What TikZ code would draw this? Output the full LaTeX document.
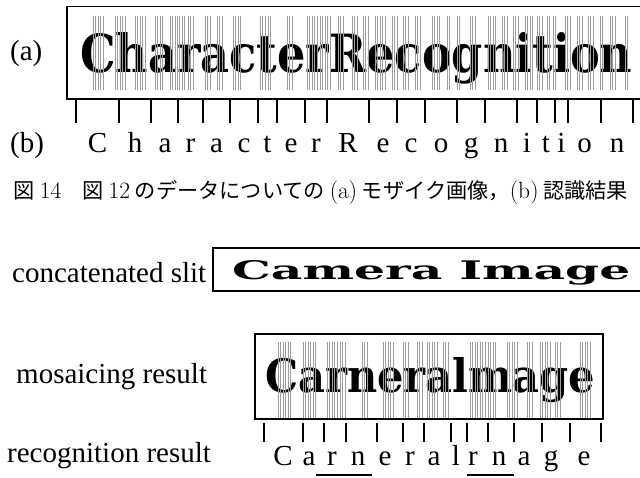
\documentclass[tikz,border=0pt]{standalone}
\usepackage{fontspec}
\usepackage{graphicx}
\newfontfamily\tms{Liberation Serif}
\newfontfamily\slab{DejaVu Serif}
\newfontfamily\cjk{Noto Sans CJK JP}
\newcommand\capnum[1]{{\rmfamily\fontsize{23.5}{25}\selectfont #1}}
\tikzset{
  boxline/.style={line width=1.4pt},
  tickline/.style={line width=1.9pt},
  slitline/.style={line width=0.9pt, black!38},
  lab/.style={inner sep=0pt, font=\tms\fontsize{29}{32}\selectfont},
  ltr/.style={inner sep=0pt, anchor=base, font=\tms\fontsize{29}{32}\selectfont},
  mos/.style={inner sep=0pt, anchor=base west},
  uline/.style={line width=1.8pt}
}
\newcommand\slits[3]{% clusters, ytop, ybottom
  \foreach \a/\b in {#1}{%
    \pgfmathtruncatemacro\nn{(\b-\a)/2.5}%
    \foreach \k in {0,...,\nn}{%
      \draw[slitline] ({\a+2.5*\k},#2) -- ({\a+2.5*\k},#3);
    }%
  }%
}
\begin{document}
\begin{tikzpicture}[x=1pt,y=-1pt]
\useasboundingbox (0,0) rectangle (640,477);
% ---------- top panel ----------
\node[lab, anchor=base west] (la) at (10,60) {(a)};
\node[lab, anchor=base west] (lb) at (10,152) {(b)};
\draw[boxline] (67,6.5) rectangle (650,99);
\node[mos] (txtA) at (80,72) {\resizebox{552pt}{40pt}{\slab\bfseries CharacterRecognition}};
\slits{93/103,115/127,135/147,155/163,170/175,177/185,188/195,205/210,217/223,233/242,260/265,268/272,287/293,307/317,320/330,338/345,352/357,363/370,375/387,392/397,403/410,415/420,432/440,447/450,457/460,470/477,488/497,502/507,513/518,525/533,537/542,547/550,553/557,565/570,577/582,588/595,600/603,610/615,625/628}{16}{90}
\foreach \x in {76,119,151,178,203,230,258,277,305,327,369,397,425,457,485,517,537,555,568,601,633}{
  \draw[tickline] (\x,100) -- (\x,123);
}
\foreach \c/\x in {C/97.5,h/135,a/165,r/190.5,a/216.5,c/244,t/267.5,e/291,r/316,R/348,e/383,c/411,o/441,g/471,n/501,i/527,t/546,i/561.5,o/584.5,n/617}{
  \node[ltr] at (\x,152) {\c};
}
% ---------- caption ----------
\node[inner sep=0pt, font=\fontsize{21.2}{25}\selectfont] (cap) at (321,192)
  {\cjk 図 \capnum{14}\quad 図 \capnum{12} のデータについての \capnum{(a)} モザイク画像，\capnum{(b)} 認識結果};
% ---------- concatenated slit ----------
\node[lab, anchor=base west] (lc) at (12,282) {concatenated slit};
\draw[boxline] (213,248) rectangle (650,291);
\node[mos] (txtC) at (232,279) {\resizebox{398pt}{19pt}{\slab\bfseries Camera Image}};
% ---------- mosaicing ----------
\node[lab, anchor=base west] (lm) at (16,383) {mosaicing result};
\draw[boxline] (255,334) rectangle (603,419);
\node[mos] (txtM) at (265,392) {\resizebox{330pt}{35pt}{\slab\bfseries Carneralmage}};
\slits{278/292,303/317,327/338,340/347,362/368,383/393,403/410,417/423,427/438,443/450,470/487,488/497,507/517,527/533,540/550,555/562,580/590}{342}{418}
\foreach \x in {264,303,324,346,377,403,424,451,467,488,514,542,570,601}{
  \draw[tickline] (\x,423) -- (\x,442);
}
\node[lab, anchor=base west] (lr) at (7,462) {recognition result};
\foreach \c/\x in {C/283,a/309,r/332,n/358,e/385,r/410,a/434,l/456,r/473,n/499,a/524,g/551,e/584}{
  \node[ltr] at (\x,465) {\c};
}
\coordinate (u1a) at (316,475); \coordinate (u1b) at (372,475);
\coordinate (u2a) at (467,475); \coordinate (u2b) at (514,475);
\draw[uline] (u1a) -- (u1b);
\draw[uline] (u2a) -- (u2b);
\end{tikzpicture}
\end{document}
